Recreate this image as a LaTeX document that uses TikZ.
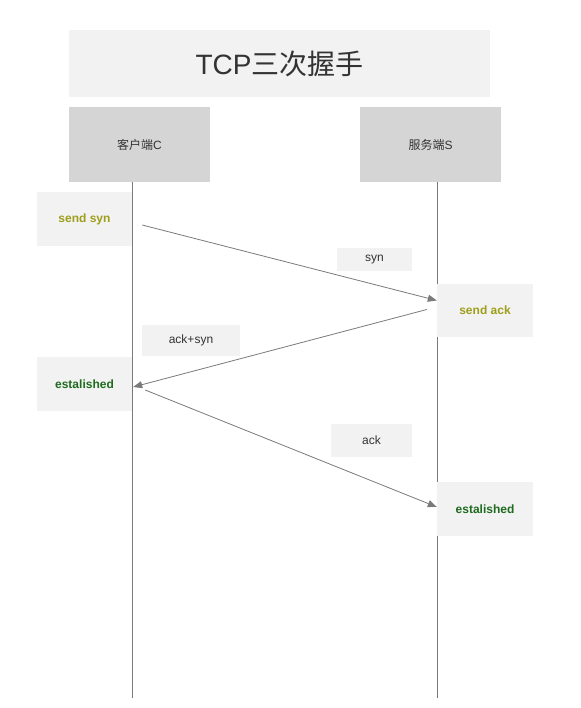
\documentclass[tikz,border=0pt]{standalone}
\usepackage{fontspec}
\setmainfont{Liberation Sans}
\newfontfamily\cjk{Noto Sans CJK SC}
\usepackage{tikz}
\usetikzlibrary{arrows.meta,positioning,calc}
\definecolor{boxgray}{HTML}{F2F2F2}
\definecolor{headgray}{HTML}{D5D5D5}
\definecolor{txtgray}{HTML}{333333}
\definecolor{linegray}{HTML}{7A7A7A}
\definecolor{olivetxt}{HTML}{9E9E1A}
\definecolor{greentxt}{HTML}{1E6B1E}

\begin{document}
\begin{tikzpicture}[
    x=1pt, y=-1pt,
    box/.style={rectangle, fill=#1, inner sep=0pt, align=center, text=txtgray},
    state/.style={box=boxgray, minimum width=95pt, minimum height=54pt, font=\fontsize{12}{14}\selectfont\bfseries},
    msg/.style={box=boxgray, font=\fontsize{12}{14}\selectfont},
    life/.style={linegray, line width=0.8pt},
    arrow/.style={-{Triangle[length=9pt,width=7pt]}, linegray, line width=0.8pt}
]
    \useasboundingbox (0,0) rectangle (580,708);

    % Title and the two parties
    \node[box=boxgray, minimum width=421pt, minimum height=67pt, font=\fontsize{28}{32}\selectfont] (title) at (279.5,63.5) {TCP{\cjk 三次握手}};
    \node[box=headgray, minimum width=141pt, minimum height=75pt, font=\fontsize{12}{14}\selectfont] (client) at (139.5,144.5) {{\cjk 客户端}C};
    \node[box=headgray, minimum width=141pt, minimum height=75pt, font=\fontsize{12}{14}\selectfont] (server) at (430.5,144.5) {{\cjk 服务端}S};

    % Lifelines
    \coordinate (cEnd) at (132,698);
    \coordinate (sEnd) at (437,698);
    \draw[life] (client.south -| cEnd) -- (cEnd);
    \draw[life] (server.south -| sEnd) -- (sEnd);

    % States
    \node[state, text=olivetxt] (sendsyn) at (84.5,219) {send syn};
    \node[state, text=olivetxt, minimum width=96pt, minimum height=53pt] (sendack) at (485,310.5) {send ack};
    \node[state, text=greentxt] (estC) at (84.5,384) {estalished};
    \node[state, text=greentxt, minimum width=96pt] (estS) at (485,509) {estalished};

    % Message labels
    \node[msg, minimum width=75pt, minimum height=23pt] (synlbl) at (374.5,259.5) {syn};
    \node[msg, minimum width=98pt, minimum height=31pt] (acksynlbl) at (191,340.5) {ack+syn};
    \node[msg, minimum width=81pt, minimum height=33pt] (acklbl) at (371.5,440.5) {ack};

    % Messages
    \draw[arrow] ([xshift=10pt,yshift=-6pt]sendsyn.east) -- ([yshift=10pt]sendack.west);
    \draw[arrow] ([xshift=-10pt,yshift=1pt]sendack.west) -- ([xshift=1pt,yshift=-3pt]estC.east);
    \draw[arrow] ([xshift=13pt,yshift=-6pt]estC.east) -- ([yshift=2pt]estS.west);
\end{tikzpicture}
\end{document}
